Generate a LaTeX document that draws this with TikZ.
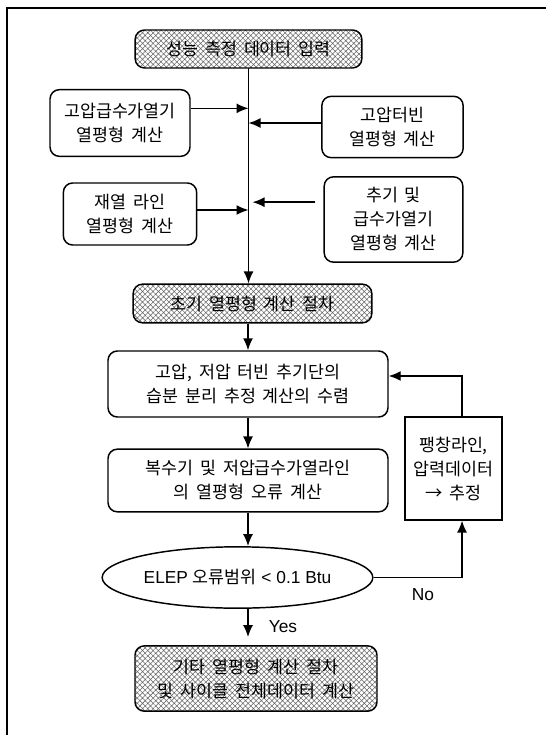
\documentclass[tikz,border=0pt]{standalone}
\usepackage{fontspec}
\setmainfont{Liberation Sans}
\newfontfamily\kr[WordSpace=1.8]{Noto Sans CJK KR}
\usetikzlibrary{shapes.geometric,arrows.meta,patterns.meta,positioning}

\begin{document}
\begin{tikzpicture}[x=0.75pt,y=-0.75pt,
    box/.style={draw,line width=1.1pt,rounded corners=7pt,align=center,
      font=\kr\fontsize{13}{18}\selectfont,inner sep=2pt},
    hatchbox/.style={box,pattern={Hatch[angle=45,distance=2.8pt,line width=0.4pt]},
      pattern color=black!60},
    sqbox/.style={box,rounded corners=0pt},
    flow/.style={line width=1.1pt,-{Latex[length=9pt,width=7.5pt]}},
    lbl/.style={font=\fontsize{13}{16}\selectfont}]
      \useasboundingbox (0,0) rectangle (546,735);
      \draw[line width=1pt] (7,735) -- (7,8) -- (546,8);

      % input side
      \node[hatchbox,minimum width=170pt,minimum height=28.5pt] (input) at (248.5,49) {성능 측정 데이터 입력};
      \node[box,minimum width=105pt,minimum height=50pt] (hpfw) at (120,123) {고압급수가열기\\열평형 계산};
      \node[box,minimum width=106pt,minimum height=46pt] (hpt) at (392.5,127) {고압터빈\\열평형 계산};
      \node[box,minimum width=100pt,minimum height=46.5pt] (reheat) at (130,214) {재열 라인\\열평형 계산};
      \node[box,minimum width=104pt,minimum height=64pt] (ext) at (393.5,219.5) {추기 및\\급수가열기\\열평형 계산};
      \node[hatchbox,minimum width=179pt,minimum height=29pt] (init) at (252.5,303.5) {초기 열평형 계산 절차};

      \draw[flow] (input.south) -- (input.south |- init.north);
      \draw[flow] ([yshift=11pt]hpfw.east) coordinate (a1) -- (a1 -| input.south);
      \draw[flow] ([yshift=3pt]hpt.west) coordinate (a2) -- (a2 -| input.south);
      \draw[flow] ([yshift=3pt]reheat.east) coordinate (a3) -- (a3 -| input.south);
      \draw[flow] ([xshift=-6pt,yshift=13pt]ext.west) coordinate (a4) -- ([xshift=3pt]a4 -| input.south);

      % iteration
      \node[box,minimum width=210pt,minimum height=49.5pt] (moist) at (248,384) {고압, 저압 터빈 추기단의\\습분 분리 추정 계산의 수렴};
      \node[box,minimum width=210pt,minimum height=47pt] (cond) at (248,480.5) {복수기 및 저압급수가열라인\\의 열평형 오류 계산};
      \node[sqbox,minimum width=73pt,minimum height=77pt] (exp) at (453.5,468.5) {팽창라인,\\압력데이터\\→ 추정};
      \node[draw,ellipse,line width=1.1pt,inner sep=0pt,minimum width=203pt,minimum height=46pt,
        font=\fontsize{13}{16}\selectfont] (elep) at (237.5,577.5) {ELEP {\kr 오류범위} < 0.1 Btu};
      \node[hatchbox,minimum width=181.5pt,minimum height=49pt] (other) at (256,678.5) {기타 열평형 계산 절차\\및 사이클 전체데이터 계산};

      \draw[flow] (moist.north |- init.south) -- (moist.north);
      \draw[flow] (moist) -- (cond);
      \draw[flow] (cond.south) -- (cond.south |- elep.north);
      \draw[flow,shorten >=6pt] (cond.south |- elep.south) -- (cond.south |- other.north);
      \draw[flow] (elep.east) -| ([xshift=6.4pt]exp.south);
      \draw[flow] ([xshift=6.4pt]exp.north) |- ([yshift=6pt]moist.east);

      \node[lbl] (no) at (423,595) {No};
      \node[lbl] (yes) at (283,627) {Yes};
\end{tikzpicture}
\end{document}
